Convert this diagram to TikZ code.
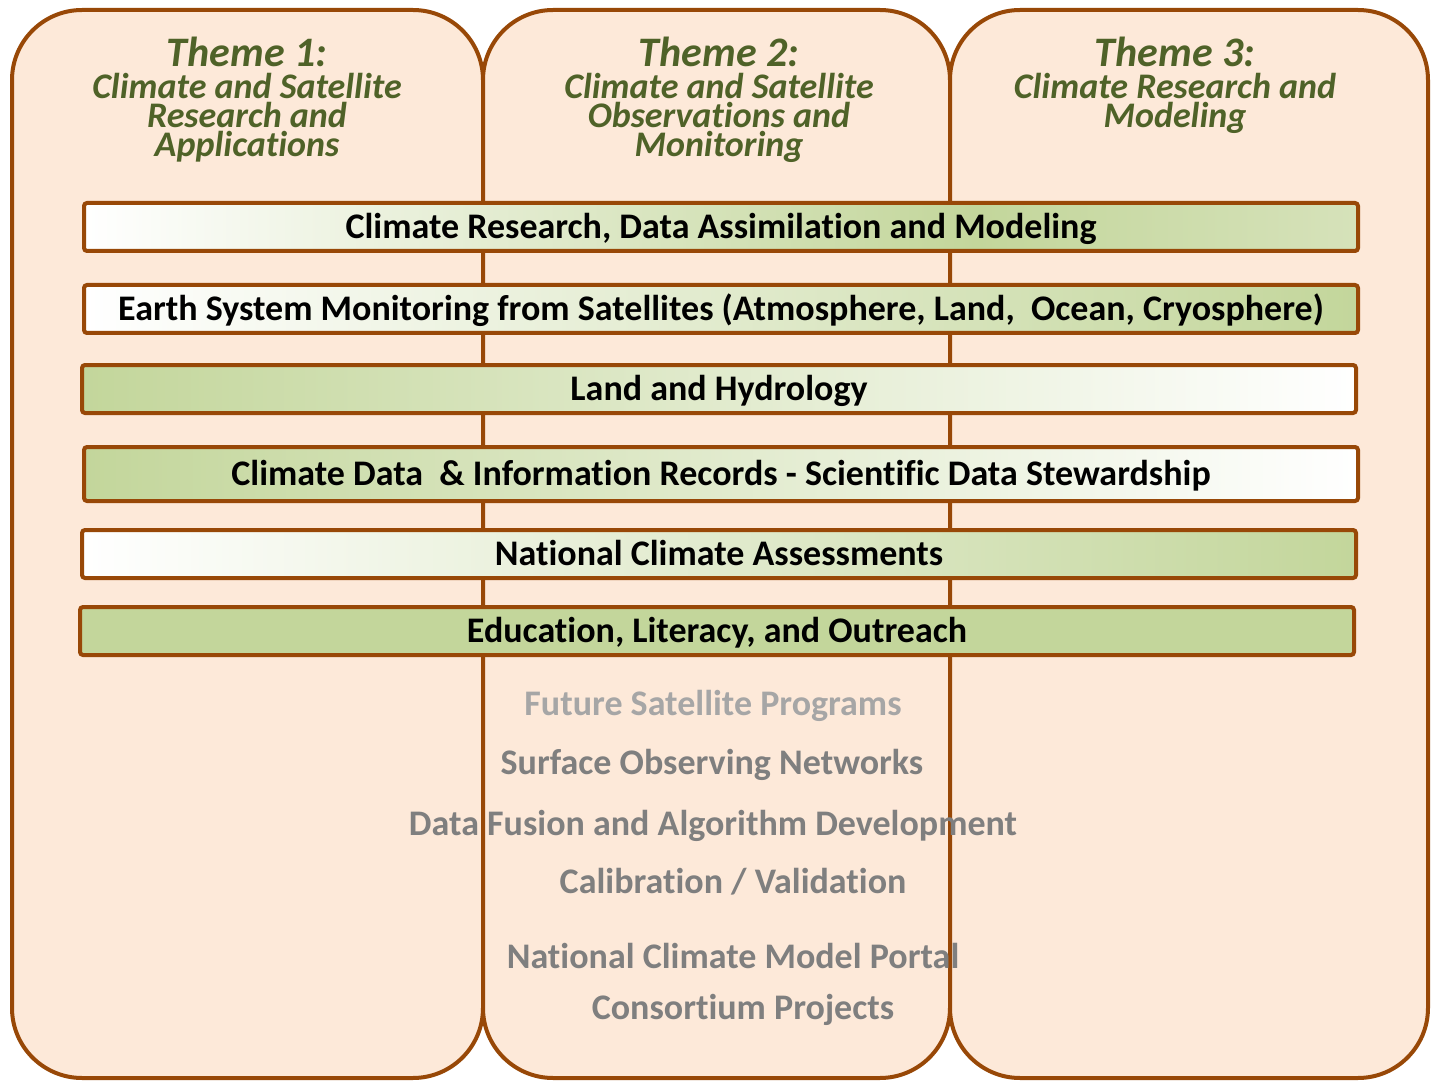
\documentclass[tikz,border=0pt]{standalone}
\usepackage{fontspec}
\setmainfont{Carlito}[Ligatures=NoCommon]
\usetikzlibrary{positioning}
\definecolor{edge}{HTML}{984807}
\definecolor{peach}{HTML}{FDE9D9}
\definecolor{leaf}{HTML}{C3D69B}
\definecolor{leafpale}{HTML}{D6E2BA}
\definecolor{olive}{HTML}{4F6228}
\definecolor{slate}{HTML}{7F7F7F}
\definecolor{mist}{HTML}{A6A6A6}
\pgfdeclarehorizontalshading{leaffade}{100bp}{color(0bp)=(white); color(25bp)=(white); color(60bp)=(leaf); color(75bp)=(leafpale); color(100bp)=(leafpale)}

\begin{document}
\begin{tikzpicture}[x=0.5pt,y=-0.5pt,
    column/.style={fill=peach,draw=edge,line width=2pt,rounded corners=35pt},
    bar/.style={draw=edge,line width=2pt,rounded corners=1.5pt,minimum width=637pt,minimum height=24pt,
      inner sep=0pt,text height=11.5pt,text depth=0pt,font=\fontsize{18}{20}\selectfont\bfseries},
    theme/.style={text=olive,anchor=base,font=\fontsize{21}{24}\selectfont\bfseries\itshape},
    subtheme/.style={text=olive,align=center,inner sep=0pt,font=\fontsize{18}{14.5}\selectfont\bfseries\itshape},
    grey/.style={text=slate,anchor=base,font=\fontsize{18}{20}\selectfont\bfseries}]
    \useasboundingbox (0,0) rectangle (1432,1081);
    % theme columns
    \draw[column] (12,10) rectangle (483,1078);
    \draw[column] (483,10) rectangle (950,1078);
    \draw[column] (950,10) rectangle (1428,1078);
    % headings
    \node[theme] (theme1) at (247,67) {Theme 1:};
    \node[subtheme,below=-1pt of theme1] (sub1) {Climate and Satellite\\Research and\\Applications};
    \node[theme] (theme2) at (719,67) {Theme 2:};
    \node[subtheme,below=-1pt of theme2] (sub2) {Climate and Satellite\\Observations and\\Monitoring};
    \node[theme] (theme3) at (1175,67) {Theme 3:};
    \node[subtheme,below=-1pt of theme3] (sub3) {Climate Research and\\Modeling};
    % cross-cutting bars
    \node[bar,shade,shading=leaffade] (research) at (721,227) {Climate Research, Data Assimilation and Modeling};
    \node[bar,left color=white,right color=leaf] (earth) at (721,309) {Earth System Monitoring from Satellites (Atmosphere, Land,\ \ Ocean, Cryosphere)};
    \node[bar,left color=leaf,right color=white] (land) at (719,389) {Land and Hydrology};
    \node[bar,left color=leaf,right color=white,minimum height=27pt] (records) at (721,474) {Climate Data\ \ \& Information Records - Scientific Data Stewardship};
    \node[bar,left color=white,right color=leaf] (nca) at (719,554) {National Climate Assessments};
    \node[bar,fill=leaf] (outreach) at (717,631) {Education, Literacy, and Outreach};
    % activities
    \node[grey,text=mist] (future) at (713,715) {Future Satellite Programs};
    \node[grey] (surface) at (712,774) {Surface Observing Networks};
    \node[grey] (fusion) at (713,835) {Data Fusion and Algorithm Development};
    \node[grey] (calval) at (733,893) {Calibration / Validation};
    \node[grey] (portal) at (733,968) {National Climate Model Portal};
    \node[grey] (consortium) at (743,1019) {Consortium Projects};
\end{tikzpicture}
\end{document}
